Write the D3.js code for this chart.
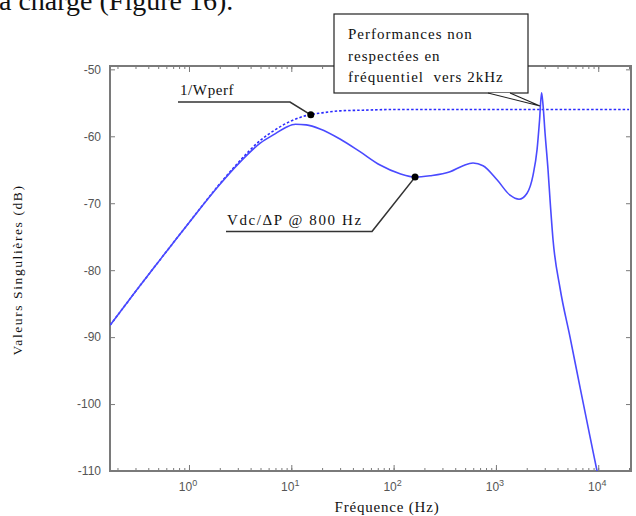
<!DOCTYPE html>
<html><head><meta charset="utf-8">
<script src="https://cdn.jsdelivr.net/npm/d3@7"></script>
<style>
html,body{margin:0;padding:0;background:#fff;}
svg{display:block;}
</style>
</head><body>
<svg id="chart" width="636" height="516"></svg>
<script>
// ---- data ----
const wperfFreq = [0.17, 0.3, 0.5, 1, 2, 3, 5, 7, 10, 14, 20, 30, 50, 100, 1000, 20000];
const wperfDb   = [-88.2, -83.2, -78.8, -72.9, -67.1, -64.0, -60.6, -59.0, -57.7, -56.9, -56.5, -56.2, -56.1, -56.0, -56.0, -56.0];

const svFreq = [0.17, 0.3, 0.5, 1, 2, 3, 5, 7, 9, 11, 14, 19.1, 29.9, 46.9, 73.7, 115.5, 162, 227, 356, 477, 597, 748, 1025, 1374, 1682, 2015, 2306, 2523, 2669, 2792, 2885, 3020, 3230, 3380, 3617, 4234, 5300, 6640, 8317, 9730, 10500];
const svDb   = [-88.2, -83.2, -78.8, -72.9, -67.2, -64.2, -61.0, -59.6, -58.6, -58.2, -58.3, -58.9, -60.4, -62.3, -64.3, -65.6, -66.1, -65.9, -65.3, -64.4, -64.0, -64.4, -66.5, -68.8, -69.4, -68.5, -65.8, -62.0, -57.6, -53.5, -55.3, -59.5, -65.0, -69.5, -75.5, -82.7, -90.0, -97.5, -104.9, -110.0, -112.5];

const markFreq = [15.5, 162];
const markDb   = [-56.8, -66.1];

const yTicks = [-110, -100, -90, -80, -70, -60, -50];
const xDecades = [0, 1, 2, 3, 4];

const xDomain = [0.169, 20900];
const yDomain = [-110, -49.5];

// ---- layout ----
const L = 110, R = 631, T = 66, B = 471;
const svg = d3.select("#chart");
svg.append("rect").attr("width", 636).attr("height", 516).attr("fill", "#fff");

const x = d3.scaleLog().domain(xDomain).range([L, R]);
const y = d3.scaleLinear().domain(yDomain).range([B, T]);

// clipped heading text at top (continuation of the document)
svg.append("text").attr("x", -1).attr("y", 10)
  .attr("font-family", "Liberation Serif, serif").attr("font-size", 28)
  .attr("fill", "#111").text("a charge (Figure 16).");

svg.append("defs").append("clipPath").attr("id", "clip")
  .append("rect").attr("x", L).attr("y", T).attr("width", R - L).attr("height", B - T);

const axisColor = "#7a7a7a";

const minorTicks = [];
[-1].concat(xDecades).forEach(d => { for (let k = 1; k <= 9; k++) { const v = k * Math.pow(10, d); if (v >= xDomain[0] && v <= xDomain[1]) minorTicks.push(v); } });
minorTicks.push(20000);

const xBottom = d3.axisBottom(x).tickValues(minorTicks).tickSizeInner(-3).tickSizeOuter(0).tickFormat("");
const gxb = svg.append("g").attr("transform", `translate(0,${B})`).call(xBottom);
const xTop = d3.axisTop(x).tickValues(minorTicks).tickSizeInner(-3).tickSizeOuter(0).tickFormat("");
const gxt = svg.append("g").attr("transform", `translate(0,${T})`).call(xTop);
const majors = xDecades.map(d => Math.pow(10, d));
const gxbM = svg.append("g").attr("transform", `translate(0,${B})`)
  .call(d3.axisBottom(x).tickValues(majors).tickSizeInner(-6).tickSizeOuter(0).tickFormat(""));
const gxtM = svg.append("g").attr("transform", `translate(0,${T})`)
  .call(d3.axisTop(x).tickValues(majors).tickSizeInner(-6).tickSizeOuter(0).tickFormat(""));
const gyl = svg.append("g").attr("transform", `translate(${L},0)`)
  .call(d3.axisLeft(y).tickValues(yTicks).tickSizeInner(-5).tickSizeOuter(0).tickPadding(9).tickFormat(d => String(d)));
const gyr = svg.append("g").attr("transform", `translate(${R},0)`)
  .call(d3.axisRight(y).tickValues(yTicks).tickSizeInner(-5).tickSizeOuter(0).tickFormat(""));

[gxb, gxt, gxbM, gxtM, gyl, gyr].forEach(g => {
  g.select(".domain").remove();
  g.selectAll(".tick line").attr("stroke", axisColor).attr("stroke-width", 1);
});
gyl.selectAll(".tick text").attr("font-family", "Liberation Sans, Arial, sans-serif")
  .attr("font-size", 12).attr("fill", "#555");

// x tick labels 10^n
const xl = svg.append("g");
xDecades.forEach(d => {
  const t = xl.append("text").attr("x", x(Math.pow(10, d)) - 1).attr("y", B + 20)
    .attr("text-anchor", "middle").attr("font-family", "Liberation Sans, Arial, sans-serif")
    .attr("font-size", 12).attr("fill", "#555");
  t.append("tspan").text("10");
  t.append("tspan").attr("dy", -5).attr("font-size", 9).text(d);
});

// frame
svg.append("rect").attr("x", L).attr("y", T).attr("width", R - L).attr("height", B - T)
  .attr("fill", "none").attr("stroke", axisColor).attr("stroke-width", 2);

// curves
const line = d3.line().x(d => x(d[0])).y(d => y(d[1])).curve(d3.curveMonotoneX);
const plot = svg.append("g").attr("clip-path", "url(#clip)");
plot.append("path").datum(wperfFreq.map((f, i) => [f, wperfDb[i]]))
  .attr("d", line).attr("fill", "none").attr("stroke", "#2a2aff")
  .attr("stroke-width", 1.6).attr("stroke-dasharray", "2.5,2");
plot.append("path").datum(svFreq.map((f, i) => [f, svDb[i]]))
  .attr("d", line).attr("fill", "none").attr("stroke", "#4a4aff")
  .attr("stroke-width", 1.6);

// annotation leaders + markers
const serif = "Liberation Serif, Times New Roman, serif";
const m1 = [x(markFreq[0]), y(markDb[0])];
const m2 = [x(markFreq[1]), y(markDb[1])];
svg.append("path").attr("d", `M178,102 L290,102 L${m1[0]},${m1[1]}`)
  .attr("fill", "none").attr("stroke", "#333").attr("stroke-width", 1.6);
svg.append("text").attr("x", 180).attr("y", 95).attr("font-family", serif)
  .attr("font-size", 15).attr("letter-spacing", 0.6).attr("fill", "#111").text("1/Wperf");

svg.append("path").attr("d", `M226,231.5 L372,231.5 L${m2[0]},${m2[1]}`)
  .attr("fill", "none").attr("stroke", "#333").attr("stroke-width", 1.6);
svg.append("text").attr("x", 227).attr("y", 225).attr("font-family", serif)
  .attr("font-size", 15).attr("letter-spacing", 1.6).attr("fill", "#111").text("Vdc/ΔP @ 800 Hz");

svg.selectAll("circle.mark").data(markFreq.map((f, i) => [f, markDb[i]])).enter()
  .append("circle").attr("class", "mark").attr("cx", d => x(d[0])).attr("cy", d => y(d[1]))
  .attr("r", 3.5).attr("fill", "#000");

// callout box
svg.append("rect").attr("x", 334).attr("y", 14).attr("width", 194).attr("height", 79)
  .attr("fill", "#fff").attr("stroke", "#222").attr("stroke-width", 1.2);
svg.append("path").attr("d", "M488,93 L540,106 L510,93 Z").attr("fill", "#fff").attr("stroke", "none");
svg.append("path").attr("d", "M488,93 L540,106 L510,93").attr("fill", "none").attr("stroke", "#222").attr("stroke-width", 1.2);
const cl = ["Performances non", "respectées en", "fréquentiel  vers 2kHz"];
cl.forEach((s, i) => {
  svg.append("text").attr("x", 348).attr("y", 39 + i * 21.5).attr("font-family", serif)
    .attr("font-size", 15).attr("letter-spacing", 1.0)
    .style("white-space", "pre").attr("fill", "#111").text(s);
});

// axis titles
svg.append("text").attr("x", 387).attr("y", 512).attr("text-anchor", "middle")
  .attr("font-family", serif).attr("font-size", 15).attr("letter-spacing", 0.8)
  .attr("fill", "#111").text("Fréquence (Hz)");
svg.append("text").attr("transform", "translate(22,270) rotate(-90)").attr("text-anchor", "middle")
  .attr("font-family", serif).attr("font-size", 13.5).attr("letter-spacing", 1.6)
  .attr("fill", "#111").text("Valeurs Singulières (dB)");
</script>
</body></html>
